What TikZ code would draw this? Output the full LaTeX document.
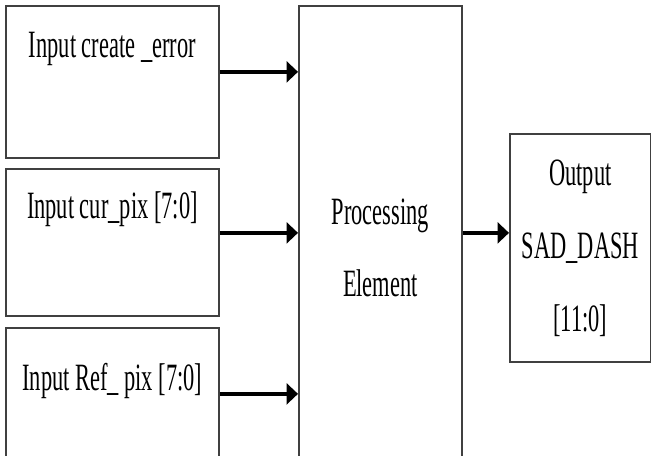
\documentclass[tikz,border=0pt]{standalone}
\usepackage{fontspec}
\newfontfamily\blockfont[FakeStretch=0.58]{Liberation Serif}
\usetikzlibrary{arrows.meta,positioning,calc}

\begin{document}
\begin{tikzpicture}[x=0.2mm, y=-0.2mm,
    block/.style={draw=black!75, line width=0.35mm, fill=white, anchor=north west,
        inner sep=0pt, align=center, font=\blockfont\fontsize{22}{41.5}\selectfont},
    blocklbl/.style={anchor=base, font=\blockfont\fontsize{22}{41.5}\selectfont},
    sig/.style={-{Triangle[length=2.3mm,width=4.2mm]}, line width=0.8mm}]
    \useasboundingbox (0,0) rectangle (651,455);
    \clip (0,0) rectangle (651,455);

    % Inputs on the left
    \node[block, minimum width=42.6mm, minimum height=30.4mm,
        label={[blocklbl, yshift=-10.4mm]north:Input create \_error}] (cerr) at (5,5) {};
    \node[block, minimum width=42.6mm, minimum height=29.4mm,
        label={[blocklbl, yshift=-10mm]north:Input cur\_pix [7:0]}] (cpix) at (5,168) {};
    \node[block, minimum width=42.6mm, minimum height=30mm,
        label={[blocklbl, yshift=-12.6mm]north:Input Ref\_ pix [7:0]}] (rpix) at (5,327) {};

    % Processing element and output
    \node[block, minimum width=32.6mm, minimum height=96.8mm] (pe) at (298,5) {Processing\\Element};
    \node[block, minimum width=28.2mm, minimum height=45.6mm] (out) at (509,133) {Output\\SAD\_DASH\\{}[11:0]};

    % Signals
    \draw[sig] ([yshift=2mm]cerr.east) -- ([yshift=2mm]cerr.east -| pe.west);
    \draw[sig] ([yshift=1.9mm]cpix.east) -- ([yshift=1.9mm]cpix.east -| pe.west);
    \draw[sig] ([yshift=1.8mm]rpix.east) -- ([yshift=1.8mm]rpix.east -| pe.west);
    \draw[sig] ([yshift=3mm]out.west -| pe.east) -- ([yshift=3mm]out.west);
\end{tikzpicture}
\end{document}
